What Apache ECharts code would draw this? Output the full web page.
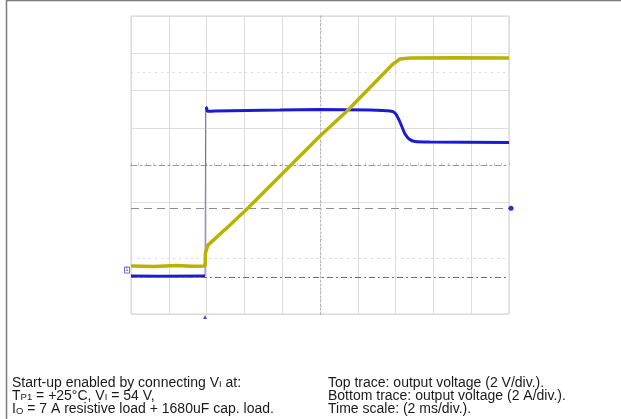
<!DOCTYPE html>
<html>
<head>
<meta charset="utf-8">
<script src="https://cdn.jsdelivr.net/npm/echarts@6/dist/echarts.min.js"></script>
<style>
  html, body { margin: 0; padding: 0; background: #ffffff; }
  #chart { width: 621px; height: 419px; }
</style>
</head>
<body>
<div id="chart"></div>
<script>
// Time base: 2 ms/div, 10 divisions
const timeMin = 0, timeMax = 20, timeStep = 2;
// Vertical scale: 2 units/div, 8 divisions, zero one division above the bottom
const levelMin = -2, levelMax = 14, levelStep = 2;

// Top trace: output voltage (V) vs time (ms)
const voltTime = [0, 1.2, 2.4, 3.2, 3.92, 3.94, 4.07, 5.24, 6.19, 10.0, 11.43, 13.86, 14.23, 14.76, 17.0, 20];
const voltValue = [0.58, 0.55, 0.60, 0.57, 0.58, 1.28, 1.70, 2.78, 3.69, 7.56, 8.90, 11.42, 11.69, 11.74, 11.76, 11.74];

// Bottom trace: output current (A) vs time (ms)
const ampTime = [0, 1.5, 3.92, 3.95, 4.0, 4.05, 4.44, 7.88, 10.0, 12.65, 13.7, 13.97, 14.18, 14.34, 14.5, 14.71, 15.03, 15.82, 20];
const ampValue = [0.04, 0.03, 0.04, 9.11, 9.05, 8.88, 8.90, 8.95, 8.98, 8.95, 8.90, 8.79, 8.42, 8.04, 7.66, 7.40, 7.26, 7.23, 7.21];
// index where the current step ends and the plateau begins
const ampStepStart = 2, ampStepEnd = 3;

// Screen reference levels
const triggerLevel = 3.675;
const triggerTime = 3.92;
const cursorLevels = [11.0, 1.0];
const groundLevel = 0;

const captionLeft = [
  'Start-up enabled by connecting V{sub|I} at:',
  'T{sub|P1} = +25°C, V{sub|I} = 54 V,',
  'I{sub|O} = 7 A resistive load + 1680uF cap. load.'
];
const captionRight = [
  'Top trace: output voltage (2 V/div.).',
  'Bottom trace: output voltage (2 A/div.).',
  'Time scale: (2 ms/div.).'
];

const pairs = (xs, ys) => xs.map((x, i) => [x, ys[i]]);
const voltData = pairs(voltTime, voltValue);
const ampData = pairs(ampTime, ampValue);

const gridCol = '#dedede';
const TXT_FONT = '"Liberation Sans", Arial, Helvetica, sans-serif';

const chart = echarts.init(document.getElementById('chart'), null, { renderer: 'canvas' });

const richCaption = {
  sub: { fontSize: 9.5, fontFamily: TXT_FONT, color: '#1a1a1a', verticalAlign: 'bottom', padding: [6, 0, 0, 0] }
};

function captionBlock(lines, x) {
  return {
    type: 'text',
    left: x,
    top: 376,
    style: {
      text: lines.join('\n'),
      font: '14px ' + TXT_FONT,
      fill: '#1a1a1a',
      lineHeight: 13.2,
      rich: richCaption
    }
  };
}

chart.setOption({
  animation: false,
  backgroundColor: '#ffffff',
  grid: {
    left: 131, top: 16, width: 378, height: 298,
    show: true, borderColor: '#cfcfcf', borderWidth: 1, backgroundColor: 'transparent'
  },
  xAxis: [
    {
      type: 'value', min: timeMin, max: timeMax, interval: timeStep,
      axisLine: { show: false }, axisTick: { show: false }, axisLabel: { show: false },
      splitLine: { show: true, lineStyle: { width: 1,
        color: [gridCol, gridCol, gridCol, gridCol, gridCol, 'transparent', gridCol, gridCol, gridCol, gridCol, gridCol] } }
    },
    {
      // horizontal centre line with division ticks
      type: 'value', min: timeMin, max: timeMax, interval: timeStep, position: 'bottom', offset: -149,
      axisLine: { show: true, lineStyle: { color: '#9a9a9a', width: 1, type: [6, 3, 2, 3] } },
      axisTick: { show: true, inside: true, length: 2, lineStyle: { color: '#bbbbbb' } },
      minorTick: { show: true, splitNumber: 5, length: 2, lineStyle: { color: '#cccccc' } },
      axisLabel: { show: false }, splitLine: { show: false }
    }
  ],
  yAxis: [
    {
      type: 'value', min: levelMin, max: levelMax, interval: levelStep,
      axisLine: { show: false }, axisTick: { show: false }, axisLabel: { show: false },
      splitLine: { show: true, lineStyle: { width: 1,
        color: [gridCol, 'transparent', 'transparent', gridCol, 'transparent', gridCol, gridCol, gridCol, gridCol] } }
    },
    {
      // vertical centre line with division ticks
      type: 'value', min: levelMin, max: levelMax, interval: levelStep, position: 'left', offset: -189,
      axisLine: { show: true, lineStyle: { color: '#b5b5b5', width: 1, type: [2, 2] } },
      axisTick: { show: true, inside: true, length: 2, lineStyle: { color: '#bbbbbb' } },
      minorTick: { show: true, splitNumber: 5, length: 2, lineStyle: { color: '#cccccc' } },
      axisLabel: { show: false }, splitLine: { show: false }
    }
  ],
  series: [
    {
      // reference levels: cursors, ground and trigger
      type: 'line', data: [], z: 1, silent: true,
      markLine: {
        symbol: 'none', silent: true, label: { show: false }, animation: false,
        data: [
          ...cursorLevels.map(v => ({ yAxis: v, lineStyle: { color: '#d9d9d9', width: 1, type: [2, 4] } })),
          { yAxis: groundLevel, lineStyle: { color: '#6e6e6e', width: 1, type: [6, 3, 2, 3] } },
          { yAxis: triggerLevel, lineStyle: { color: '#8c8c8c', width: 1.2, type: [8, 5] } }
        ]
      }
    },
    {
      name: 'Current step', type: 'line', data: ampData.slice(ampStepStart, ampStepEnd + 1),
      showSymbol: false, z: 3, lineStyle: { color: '#6a6ae0', width: 1 }
    },
    {
      name: 'Current', type: 'line', data: ampData.slice(0, ampStepStart + 1),
      showSymbol: false, z: 4, lineStyle: { color: '#1c1ccf', width: 3 }
    },
    {
      name: 'Current plateau', type: 'line', data: ampData.slice(ampStepEnd), smooth: 0.2,
      showSymbol: false, z: 4, lineStyle: { color: '#1c1ccf', width: 3 },
      markPoint: {
        silent: true, label: { show: false },
        data: [
          { coord: [timeMax, triggerLevel], symbol: 'circle', symbolSize: 5, symbolOffset: [2, 0], itemStyle: { color: '#2a2ae0' } },
          { coord: [triggerTime, levelMin], symbol: 'triangle', symbolSize: 4, symbolOffset: [0, 3], itemStyle: { color: '#4a4ae0' } }
        ]
      }
    },
    {
      name: 'Voltage', type: 'line', data: voltData,
      showSymbol: false, z: 5, lineStyle: { color: '#b9b200', width: 3.5 },
      markPoint: {
        silent: true, label: { show: true, formatter: '1', fontSize: 5, color: '#3a3ad0', offset: [0, 0] },
        data: [
          { coord: [timeMin, 0.36], symbol: 'rect', symbolSize: [5, 6], symbolOffset: [-4, 0],
            itemStyle: { color: '#ffffff', borderColor: '#4a4ad8', borderWidth: 0.8 } }
        ]
      }
    }
  ],
  graphic: [
    {
      type: 'rect', shape: { x: 6.5, y: 0.5, width: 700, height: 500 },
      style: { fill: 'none', stroke: '#7c7c7c', lineWidth: 1.5 }, silent: true
    },
    captionBlock(captionLeft, 12),
    captionBlock(captionRight, 328)
  ]
});
</script>
</body>
</html>
